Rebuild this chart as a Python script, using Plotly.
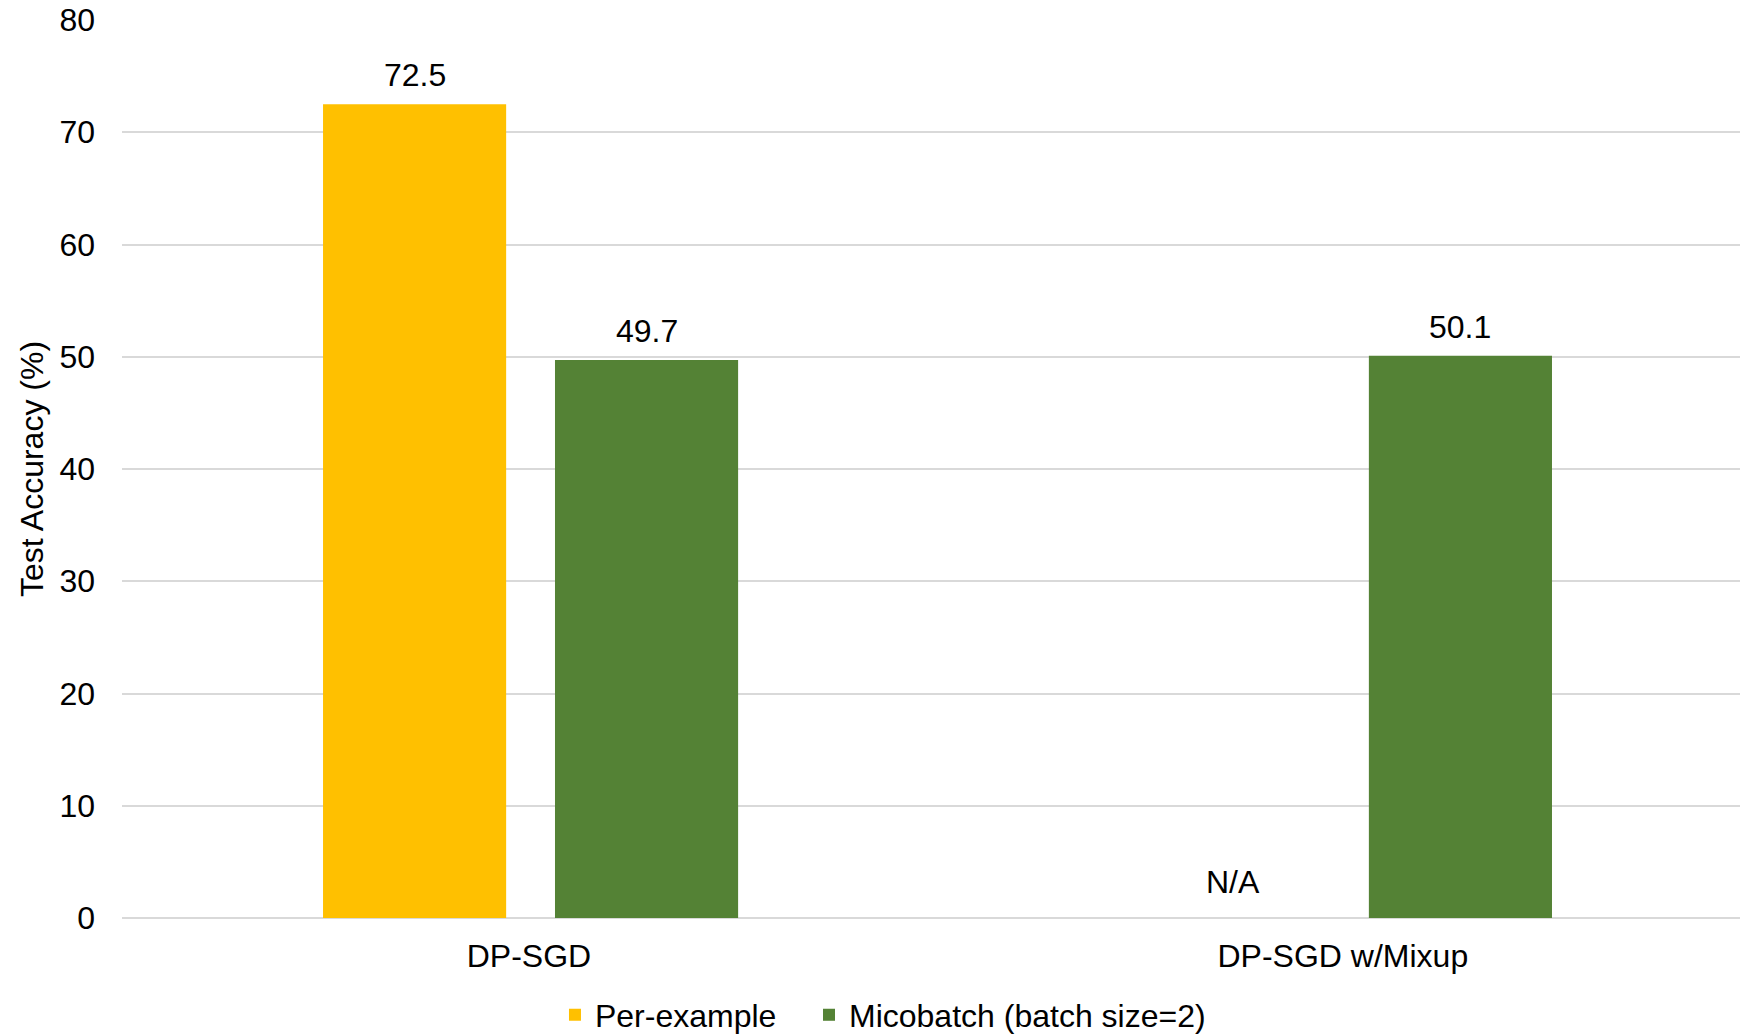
import plotly.graph_objects as go

# Test accuracy per training setup
categories = ["DP-SGD", "DP-SGD w/Mixup"]
per_example = [72.5, None]          # not available for the Mixup setup
microbatch = [49.7, 50.1]
series_names = ["Per-example", "Micobatch (batch size=2)"]
y_ticks = [0, 10, 20, 30, 40, 50, 60, 70, 80]

YELLOW = "#FFC000"
GREEN = "#548235"
FONT = "Liberation Sans, Arial, sans-serif"
TXT = "#000000"

BAR_W = 0.225
OFF_A = -0.253
OFF_B = 0.032

fig = go.Figure()
fig.add_trace(go.Bar(
    name=series_names[0], x=categories, y=per_example,
    marker=dict(color=YELLOW, line=dict(width=0)),
    width=BAR_W, offset=OFF_A, legend="legend",
))
fig.add_trace(go.Bar(
    name=series_names[1], x=categories, y=microbatch,
    marker=dict(color=GREEN, line=dict(width=0)),
    width=BAR_W, offset=OFF_B, legend="legend2",
))

# value labels above each bar, "N/A" where a value is missing
annotations = []
for i, cat in enumerate(categories):
    for vals, off in ((per_example, OFF_A), (microbatch, OFF_B)):
        v = vals[i]
        xc = i + off + BAR_W / 2
        if v is None:
            annotations.append(dict(x=xc, y=0, xref="x", yref="y", text="N/A",
                                    showarrow=False, yanchor="bottom", yshift=16,
                                    xshift=5,
                                    font=dict(family=FONT, size=32, color=TXT)))
        else:
            annotations.append(dict(x=xc, y=v, xref="x", yref="y", text=f"{v:.1f}",
                                    showarrow=False, yanchor="bottom", yshift=9,
                                    font=dict(family=FONT, size=32, color=TXT)))

legend_style = dict(orientation="h", xanchor="left", y=-0.108, yanchor="middle",
                    font=dict(size=32, color=TXT), bgcolor="rgba(0,0,0,0)")

fig.update_layout(
    width=1740, height=1034,
    margin=dict(l=122, r=0, t=20, b=116, autoexpand=False),
    paper_bgcolor="white", plot_bgcolor="white",
    font=dict(family=FONT, size=32, color=TXT),
    barmode="group",
    showlegend=True,
    legend=dict(x=0.2676, **legend_style),
    legend2=dict(x=0.4246, **legend_style),
    annotations=annotations,
)
fig.update_xaxes(
    type="category", categoryorder="array", categoryarray=categories,
    range=[-0.5, 1.488], showgrid=False, showline=False, zeroline=False,
    ticks="", ticklabelstandoff=16, tickfont=dict(size=32, color=TXT),
)
fig.update_yaxes(
    range=[0, 80], tickvals=y_ticks, showgrid=True, gridcolor="#D9D9D9",
    gridwidth=1.5, zeroline=True, zerolinecolor="#D9D9D9", zerolinewidth=1.5,
    showline=False, ticks="", ticklabelstandoff=26,
    tickfont=dict(size=32, color=TXT),
    title=dict(text="Test Accuracy (%)", font=dict(size=32, color=TXT), standoff=6),
)

fig.write_html("out.html")
